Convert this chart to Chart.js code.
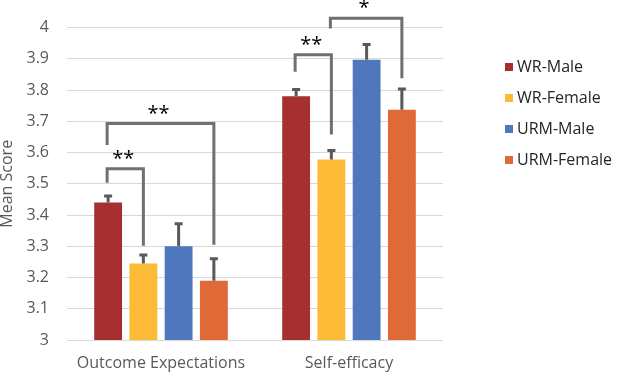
<!DOCTYPE html>
<html>
<head>
<meta charset="utf-8">
<script src="https://cdn.jsdelivr.net/npm/chart.js@4.4.0/dist/chart.umd.min.js"></script>
<style>
  html, body { margin: 0; padding: 0; background: #fff; }
  #wrap { width: 617px; height: 374px; }
</style>
</head>
<body>
<div id="wrap"><canvas id="meanScores" width="617" height="374"></canvas></div>
<script>
  // categories and series
  var categories = ['Outcome Expectations', 'Self-efficacy'];
  var seriesNames = ['WR-Male', 'WR-Female', 'URM-Male', 'URM-Female'];
  var seriesColors = ['#A5302F', '#FBBB36', '#4F77BD', '#E06A37'];

  // mean scores per series
  var wrMale = [3.44, 3.78];
  var wrFemale = [3.245, 3.578];
  var urmMale = [3.30, 3.897];
  var urmFemale = [3.19, 3.737];

  // upper error bar length per series
  var wrMaleErr = [0.024, 0.025];
  var wrFemaleErr = [0.030, 0.032];
  var urmMaleErr = [0.075, 0.052];
  var urmFemaleErr = [0.073, 0.070];

  var yTickLabels = ['3', '3.1', '3.2', '3.3', '3.4', '3.5', '3.6', '3.7', '3.8', '3.9', '4'];

  // significance brackets (category, from series, to series, heights in score units)
  var bracketCategory = [0, 0, 1, 1];
  var bracketFrom = [0, 0, 0, 1];
  var bracketTo = [1, 3, 1, 3];
  var bracketTop = [3.548, 3.693, 3.913, 4.030];
  var bracketLeftLow = [3.503, 3.624, 3.859, 3.997];
  var bracketRightLow = [3.302, 3.305, 3.658, 3.838];
  var bracketLabels = ['**', '**', '**', '*'];

  var seriesValues = [wrMale, wrFemale, urmMale, urmFemale];
  var seriesErrors = [wrMaleErr, wrFemaleErr, urmMaleErr, urmFemaleErr];

  var FONT = "'Open Sans', 'Noto Sans', sans-serif";

  var errorBars = {
    id: 'errorBars',
    afterDatasetsDraw: function (chart) {
      var ctx = chart.ctx;
      var y = chart.scales.y;
      ctx.save();
      ctx.strokeStyle = '#595959';
      ctx.lineWidth = 3;
      chart.data.datasets.forEach(function (ds, i) {
        var meta = chart.getDatasetMeta(i);
        meta.data.forEach(function (bar, j) {
          var top = y.getPixelForValue(ds.data[j] + seriesErrors[i][j]);
          ctx.beginPath();
          ctx.moveTo(bar.x, bar.y);
          ctx.lineTo(bar.x, top);
          ctx.moveTo(bar.x - 4, top + 1);
          ctx.lineTo(bar.x + 4, top + 1);
          ctx.stroke();
        });
      });
      ctx.restore();
    }
  };

  var brackets = {
    id: 'brackets',
    afterDraw: function (chart) {
      var ctx = chart.ctx;
      var y = chart.scales.y;
      ctx.save();
      ctx.strokeStyle = '#707070';
      ctx.lineWidth = 3;
      ctx.lineJoin = 'miter';
      for (var k = 0; k < bracketLabels.length; k++) {
        var c = bracketCategory[k];
        var x1 = chart.getDatasetMeta(bracketFrom[k]).data[c].x - 1;
        var x2 = chart.getDatasetMeta(bracketTo[k]).data[c].x;
        var top = y.getPixelForValue(bracketTop[k]);
        ctx.beginPath();
        ctx.moveTo(x1, y.getPixelForValue(bracketLeftLow[k]));
        ctx.lineTo(x1, top);
        ctx.lineTo(x2, top);
        ctx.lineTo(x2, y.getPixelForValue(bracketRightLow[k]));
        ctx.stroke();
        ctx.fillStyle = '#000';
        ctx.font = '20px ' + FONT;
        ctx.textAlign = 'center';
        ctx.textBaseline = 'alphabetic';
        ctx.fillText(bracketLabels[k], (x1 + x2) / 2 - 2, top - 4);
      }
      ctx.restore();
    }
  };

  var sideLegend = {
    id: 'sideLegend',
    afterDraw: function (chart) {
      var ctx = chart.ctx;
      var left = chart.chartArea.right + 62;
      ctx.save();
      ctx.font = '16px ' + FONT;
      ctx.textBaseline = 'middle';
      ctx.textAlign = 'left';
      seriesNames.forEach(function (name, i) {
        var cy = 67 + i * 31;
        ctx.fillStyle = seriesColors[i];
        ctx.fillRect(left, cy - 4, 8, 8);
        ctx.fillStyle = '#262626';
        ctx.fillText(name, left + 12, cy);
      });
      ctx.restore();
    }
  };

  var datasets = seriesNames.map(function (name, i) {
    return {
      label: name,
      data: seriesValues[i],
      backgroundColor: seriesColors[i],
      categoryPercentage: 0.75,
      barPercentage: 0.79
    };
  });

  var ctx = document.getElementById('meanScores');
  new Chart(ctx, {
    type: 'bar',
    data: {
      labels: categories,
      datasets: datasets
    },
    plugins: [errorBars, brackets, sideLegend],
    options: {
      responsive: false,
      animation: false,
      layout: {
        padding: { top: 25, right: 174, left: 0, bottom: 0 }
      },
      plugins: {
        legend: { display: false },
        tooltip: { enabled: false }
      },
      scales: {
        x: {
          grid: { display: false },
          border: { display: false },
          ticks: {
            color: '#595959',
            font: { family: FONT, size: 16 },
            padding: 6,
            maxRotation: 0
          },
          afterFit: function (scale) { scale.height = 34; }
        },
        y: {
          min: 3,
          max: 4,
          border: { display: false },
          grid: { color: '#d9d9d9', lineWidth: 1, drawTicks: false },
          ticks: {
            stepSize: 0.1,
            color: '#595959',
            font: { family: FONT, size: 16 },
            padding: 18,
            callback: function (value, index) { return yTickLabels[index]; }
          },
          title: {
            display: true,
            text: 'Mean Score',
            color: '#595959',
            font: { family: FONT, size: 16, lineHeight: 0.9 },
            padding: 0
          },
          afterFit: function (scale) { scale.width = 67; }
        }
      }
    }
  });
</script>
</body>
</html>
